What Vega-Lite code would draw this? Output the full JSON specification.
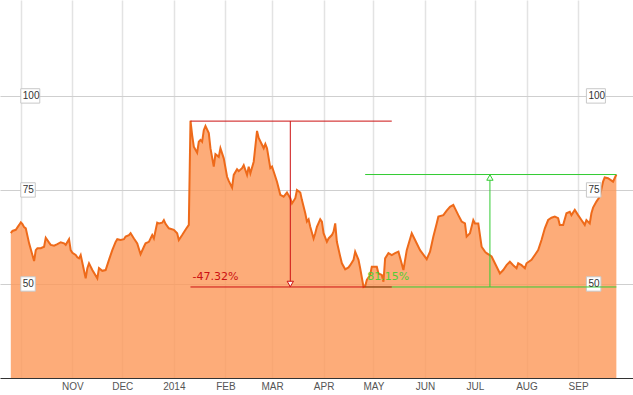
{
  "$schema": "https://vega.github.io/schema/vega-lite/v6.json",
  "width": 633,
  "height": 378,
  "autosize": {"type": "none"},
  "padding": {"left": 0, "right": 0, "top": 0, "bottom": 17},
  "background": "white",
  "config": {"view": {"stroke": null}, "font": "Liberation Sans"},
  "datasets": {
    "price": [
      {"date":"2013-09-25","close":63.5},{"date":"2013-09-26","close":64.1},{"date":"2013-09-28","close":64.4},{"date":"2013-09-30","close":65.7},
      {"date":"2013-10-01","close":66.4},{"date":"2013-10-02","close":65.9},{"date":"2013-10-03","close":65.1},{"date":"2013-10-04","close":64.8},
      {"date":"2013-10-06","close":60.8},{"date":"2013-10-09","close":56.1},{"date":"2013-10-10","close":59.0},{"date":"2013-10-11","close":59.5},
      {"date":"2013-10-13","close":59.5},{"date":"2013-10-15","close":59.9},{"date":"2013-10-16","close":62.3},{"date":"2013-10-18","close":61.0},
      {"date":"2013-10-19","close":60.4},{"date":"2013-10-21","close":60.2},{"date":"2013-10-23","close":60.6},{"date":"2013-10-25","close":61.1},
      {"date":"2013-10-27","close":60.8},{"date":"2013-10-28","close":60.4},{"date":"2013-10-30","close":61.9},{"date":"2013-10-31","close":59.0},
      {"date":"2013-11-01","close":58.3},{"date":"2013-11-03","close":57.7},{"date":"2013-11-04","close":57.1},{"date":"2013-11-05","close":56.8},
      {"date":"2013-11-06","close":57.7},{"date":"2013-11-09","close":51.5},{"date":"2013-11-10","close":54.2},{"date":"2013-11-11","close":55.5},
      {"date":"2013-11-13","close":53.7},{"date":"2013-11-16","close":51.5},{"date":"2013-11-17","close":54.2},{"date":"2013-11-19","close":53.5},
      {"date":"2013-11-21","close":53.7},{"date":"2013-11-23","close":56.4},{"date":"2013-11-25","close":59.0},{"date":"2013-11-27","close":61.2},
      {"date":"2013-11-28","close":61.9},{"date":"2013-11-30","close":61.7},{"date":"2013-12-02","close":61.9},{"date":"2013-12-03","close":62.6},
      {"date":"2013-12-05","close":63.0},{"date":"2013-12-06","close":63.5},{"date":"2013-12-08","close":62.1},{"date":"2013-12-10","close":60.8},
      {"date":"2013-12-12","close":57.9},{"date":"2013-12-14","close":59.9},{"date":"2013-12-15","close":60.8},{"date":"2013-12-17","close":61.2},
      {"date":"2013-12-19","close":63.0},{"date":"2013-12-20","close":62.1},{"date":"2013-12-22","close":66.3},{"date":"2013-12-23","close":66.1},
      {"date":"2013-12-25","close":66.3},{"date":"2013-12-26","close":67.0},{"date":"2013-12-27","close":66.0},{"date":"2013-12-29","close":64.8},
      {"date":"2014-01-01","close":64.4},{"date":"2014-01-03","close":63.5},{"date":"2014-01-04","close":61.7},{"date":"2014-01-06","close":63.0},
      {"date":"2014-01-08","close":64.4},{"date":"2014-01-10","close":65.7},{"date":"2014-01-11","close":93.4},{"date":"2014-01-12","close":89.6},
      {"date":"2014-01-13","close":86.5},{"date":"2014-01-15","close":84.9},{"date":"2014-01-16","close":87.8},{"date":"2014-01-17","close":88.3},
      {"date":"2014-01-18","close":87.8},{"date":"2014-01-19","close":90.9},{"date":"2014-01-20","close":92.0},{"date":"2014-01-22","close":90.1},
      {"date":"2014-01-23","close":86.1},{"date":"2014-01-25","close":81.2},{"date":"2014-01-26","close":84.5},{"date":"2014-01-28","close":83.8},
      {"date":"2014-01-29","close":86.1},{"date":"2014-01-31","close":83.4},{"date":"2014-02-02","close":78.5},{"date":"2014-02-03","close":77.4},
      {"date":"2014-02-05","close":75.6},{"date":"2014-02-06","close":79.0},{"date":"2014-02-08","close":80.5},{"date":"2014-02-09","close":80.0},
      {"date":"2014-02-11","close":80.8},{"date":"2014-02-12","close":81.6},{"date":"2014-02-14","close":79.0},{"date":"2014-02-15","close":81.2},
      {"date":"2014-02-16","close":79.4},{"date":"2014-02-18","close":82.5},{"date":"2014-02-20","close":90.7},{"date":"2014-02-21","close":88.8},
      {"date":"2014-02-23","close":87.0},{"date":"2014-02-24","close":86.1},{"date":"2014-02-25","close":87.2},{"date":"2014-02-26","close":86.1},
      {"date":"2014-02-28","close":80.8},{"date":"2014-03-01","close":81.2},{"date":"2014-03-02","close":79.9},{"date":"2014-03-04","close":77.2},
      {"date":"2014-03-06","close":73.7},{"date":"2014-03-08","close":73.2},{"date":"2014-03-10","close":74.3},{"date":"2014-03-12","close":72.8},
      {"date":"2014-03-13","close":71.4},{"date":"2014-03-15","close":72.8},{"date":"2014-03-16","close":75.0},{"date":"2014-03-18","close":74.3},
      {"date":"2014-03-19","close":72.3},{"date":"2014-03-21","close":68.8},{"date":"2014-03-22","close":66.6},{"date":"2014-03-23","close":67.2},
      {"date":"2014-03-24","close":65.2},{"date":"2014-03-26","close":62.1},{"date":"2014-03-27","close":63.5},{"date":"2014-03-28","close":65.2},
      {"date":"2014-03-30","close":67.2},{"date":"2014-03-31","close":66.6},{"date":"2014-04-01","close":63.5},{"date":"2014-04-03","close":61.2},
      {"date":"2014-04-04","close":62.1},{"date":"2014-04-06","close":63.0},{"date":"2014-04-07","close":63.9},{"date":"2014-04-08","close":66.1},
      {"date":"2014-04-09","close":61.2},{"date":"2014-04-11","close":57.3},{"date":"2014-04-12","close":55.5},{"date":"2014-04-14","close":53.9},
      {"date":"2014-04-16","close":54.4},{"date":"2014-04-17","close":55.0},{"date":"2014-04-19","close":56.4},{"date":"2014-04-20","close":58.6},
      {"date":"2014-04-22","close":56.4},{"date":"2014-04-23","close":54.2},{"date":"2014-04-25","close":49.2},{"date":"2014-04-26","close":49.4},
      {"date":"2014-04-27","close":51.1},{"date":"2014-04-29","close":52.4},{"date":"2014-04-30","close":54.6},{"date":"2014-05-03","close":54.6},
      {"date":"2014-05-04","close":52.8},{"date":"2014-05-06","close":52.4},{"date":"2014-05-07","close":50.6},{"date":"2014-05-08","close":56.8},
      {"date":"2014-05-10","close":58.2},{"date":"2014-05-12","close":57.7},{"date":"2014-05-14","close":58.2},{"date":"2014-05-16","close":58.6},
      {"date":"2014-05-19","close":53.7},{"date":"2014-05-21","close":59.0},{"date":"2014-05-24","close":63.5},{"date":"2014-05-26","close":61.7},
      {"date":"2014-05-29","close":59.0},{"date":"2014-06-02","close":56.6},{"date":"2014-06-04","close":58.6},{"date":"2014-06-06","close":62.6},
      {"date":"2014-06-08","close":66.1},{"date":"2014-06-09","close":67.9},{"date":"2014-06-12","close":68.3},{"date":"2014-06-14","close":69.5},
      {"date":"2014-06-16","close":70.5},{"date":"2014-06-18","close":71.0},{"date":"2014-06-19","close":70.1},{"date":"2014-06-21","close":68.3},
      {"date":"2014-06-23","close":66.6},{"date":"2014-06-25","close":66.1},{"date":"2014-06-26","close":62.6},{"date":"2014-06-28","close":63.5},
      {"date":"2014-06-30","close":67.0},{"date":"2014-07-01","close":66.1},{"date":"2014-07-03","close":66.1},{"date":"2014-07-05","close":59.9},
      {"date":"2014-07-07","close":58.6},{"date":"2014-07-08","close":58.2},{"date":"2014-07-11","close":57.3},{"date":"2014-07-13","close":55.5},
      {"date":"2014-07-15","close":53.7},{"date":"2014-07-16","close":52.8},{"date":"2014-07-18","close":53.7},{"date":"2014-07-20","close":55.0},
      {"date":"2014-07-22","close":55.9},{"date":"2014-07-24","close":55.0},{"date":"2014-07-26","close":54.2},{"date":"2014-07-27","close":55.5},
      {"date":"2014-07-29","close":55.0},{"date":"2014-07-31","close":54.2},{"date":"2014-08-01","close":55.5},{"date":"2014-08-04","close":56.4},
      {"date":"2014-08-06","close":57.7},{"date":"2014-08-08","close":59.0},{"date":"2014-08-10","close":61.7},{"date":"2014-08-12","close":64.8},
      {"date":"2014-08-14","close":67.0},{"date":"2014-08-16","close":67.6},{"date":"2014-08-18","close":67.9},{"date":"2014-08-20","close":67.5},
      {"date":"2014-08-21","close":65.7},{"date":"2014-08-23","close":65.7},{"date":"2014-08-25","close":68.8},{"date":"2014-08-27","close":69.2},
      {"date":"2014-08-28","close":68.3},{"date":"2014-08-30","close":69.7},{"date":"2014-09-01","close":68.3},{"date":"2014-09-03","close":67.0},
      {"date":"2014-09-05","close":65.7},{"date":"2014-09-06","close":67.0},{"date":"2014-09-08","close":66.1},{"date":"2014-09-09","close":68.8},
      {"date":"2014-09-10","close":70.3},{"date":"2014-09-12","close":71.9},{"date":"2014-09-14","close":73.2},{"date":"2014-09-16","close":77.2},
      {"date":"2014-09-17","close":78.3},{"date":"2014-09-19","close":78.1},{"date":"2014-09-22","close":77.2},{"date":"2014-09-24","close":79.1}
    ],
    "moves": [
      {"kind":"rise","start":"2014-04-26","end":"2014-09-24","pivot":"2014-07-10","high":79.1,"low":49.2,"label":"81.15%"},
      {"kind":"drop","start":"2014-01-11","end":"2014-05-12","pivot":"2014-03-12","high":93.3,"low":49.2,"label":"-47.32%"}
    ],
    "ticks": [
      {"v":100,"t":"100"},{"v":75,"t":"75"},{"v":50,"t":"50"}
    ]
  },
  "layer": [
    {
      "data": {"name": "price"},
      "mark": {"type": "area", "color": "#FD9758", "opacity": 0.8, "clip": true},
      "encoding": {
        "x": {
          "field": "date", "type": "temporal",
          "scale": {"type": "utc", "domain": [{"year":2013,"month":9,"date":18,"hours":12,"utc":true},{"year":2014,"month":10,"date":4,"utc":true}]},
          "axis": {
            "values": [
              {"year":2013,"month":10,"date":1,"utc":true},{"year":2013,"month":11,"date":1,"utc":true},{"year":2013,"month":12,"date":1,"utc":true},
              {"year":2014,"month":1,"date":1,"utc":true},{"year":2014,"month":2,"date":1,"utc":true},{"year":2014,"month":3,"date":1,"utc":true},
              {"year":2014,"month":4,"date":1,"utc":true},{"year":2014,"month":5,"date":1,"utc":true},{"year":2014,"month":6,"date":1,"utc":true},
              {"year":2014,"month":7,"date":1,"utc":true},{"year":2014,"month":8,"date":1,"utc":true},{"year":2014,"month":9,"date":1,"utc":true}
            ],
            "labelExpr": "utcmonth(datum.value) == 9 ? '' : (utcmonth(datum.value) == 0 ? utcFormat(datum.value, '%Y') : upper(utcFormat(datum.value, '%b')))",
            "title": null, "ticks": false, "labelPadding": 3, "labelFontSize": 10, "labelColor": "#555", "labelFont": "Liberation Sans",
            "domainColor": "#333", "domainWidth": 1, "grid": true, "gridColor": "#e3e3e3", "gridWidth": 1.5, "labelFlush": false
          }
        },
        "y": {
          "field": "close", "type": "quantitative",
          "scale": {"domain": [25, 125.5], "zero": false, "nice": false},
          "axis": {"values": [50, 75, 100], "labels": false, "ticks": false, "domain": false, "title": null, "grid": true, "gridColor": "#cfcfcf", "gridWidth": 1}
        }
      }
    },
    {
      "data": {"name": "price"},
      "mark": {"type": "line", "color": "#EE6A1A", "strokeWidth": 2, "clip": true},
      "encoding": {
        "x": {"field": "date", "type": "temporal"},
        "y": {"field": "close", "type": "quantitative"}
      }
    },
    {
      "data": {"name": "ticks"},
      "mark": {"type": "point", "filled": true, "fill": "white", "stroke": "#c8c8c8", "strokeWidth": 1, "opacity": 1, "size": 400},
      "encoding": {
        "x": {"datum": {"year":2013,"month":10,"date":1,"utc":true}, "type": "temporal"},
        "y": {"field": "v", "type": "quantitative"},
        "shape": {"field": "t", "type": "nominal", "scale": {"domain": ["100","75","50"], "range": ["M0,-0.72L1.9,-0.72L1.9,0.72L0,0.72Z","M0,-0.72L1.45,-0.72L1.45,0.72L0,0.72Z","M0,-0.72L1.45,-0.72L1.45,0.72L0,0.72Z"]}, "legend": null}
      }
    },
    {
      "data": {"name": "ticks"},
      "mark": {"type": "point", "filled": true, "fill": "white", "stroke": "#c8c8c8", "strokeWidth": 1, "opacity": 1, "size": 400},
      "encoding": {
        "x": {"datum": {"year":2014,"month":9,"date":6,"utc":true}, "type": "temporal"},
        "y": {"field": "v", "type": "quantitative"},
        "shape": {"field": "t", "type": "nominal", "legend": null}
      }
    },
    {
      "data": {"name": "moves"},
      "mark": {"type": "rule", "strokeWidth": 1},
      "encoding": {
        "x": {"field": "start", "type": "temporal"},
        "x2": {"field": "end"},
        "y": {"field": "high", "type": "quantitative"},
        "color": {"condition": {"test": "datum.kind == 'drop'", "value": "#cc1111"}, "value": "#33cc33"}
      }
    },
    {
      "data": {"name": "moves"},
      "mark": {"type": "rule", "strokeWidth": 1},
      "encoding": {
        "x": {"field": "pivot", "type": "temporal"},
        "y": {"field": "high", "type": "quantitative"},
        "y2": {"field": "low"},
        "color": {"condition": {"test": "datum.kind == 'drop'", "value": "#cc1111"}, "value": "#33cc33"}
      }
    },
    {
      "data": {"name": "moves"},
      "mark": {"type": "rule", "strokeWidth": 1},
      "encoding": {
        "x": {"field": "start", "type": "temporal"},
        "x2": {"field": "end"},
        "y": {"field": "low", "type": "quantitative"},
        "color": {"condition": {"test": "datum.kind == 'drop'", "value": "#cc1111"}, "value": "#33cc33"}
      }
    },
    {
      "data": {"name": "moves"},
      "transform": [{"filter": "datum.kind == 'drop'"}],
      "mark": {"type": "point", "shape": "triangle-down", "filled": true, "fill": "#fff4f0", "stroke": "#cc1111", "strokeWidth": 1, "size": 40, "opacity": 1},
      "encoding": {
        "x": {"field": "pivot", "type": "temporal"},
        "y": {"field": "low", "type": "quantitative"},
        "yOffset": {"value": -3}
      }
    },
    {
      "data": {"name": "moves"},
      "transform": [{"filter": "datum.kind == 'rise'"}],
      "mark": {"type": "point", "shape": "triangle-up", "filled": true, "fill": "#f4fff4", "stroke": "#33cc33", "strokeWidth": 1, "size": 40, "opacity": 1},
      "encoding": {
        "x": {"field": "pivot", "type": "temporal"},
        "y": {"field": "high", "type": "quantitative"},
        "yOffset": {"value": 3}
      }
    },
    {
      "data": {"name": "moves"},
      "mark": {"type": "text", "align": "left", "baseline": "middle", "dx": 2, "dy": -10, "fontSize": 11, "font": "DejaVu Sans"},
      "encoding": {
        "x": {"field": "start", "type": "temporal"},
        "y": {"field": "low", "type": "quantitative"},
        "text": {"field": "label"},
        "color": {"condition": {"test": "datum.kind == 'drop'", "value": "#cc1111"}, "value": "#55cc33"}
      }
    },
    {
      "data": {"name": "ticks"},
      "mark": {"type": "text", "align": "left", "baseline": "middle", "dx": 2, "fontSize": 10, "color": "#333", "font": "Liberation Sans"},
      "encoding": {
        "x": {"datum": {"year":2013,"month":10,"date":1,"utc":true}, "type": "temporal"},
        "y": {"field": "v", "type": "quantitative"},
        "text": {"field": "t"}
      }
    },
    {
      "data": {"name": "ticks"},
      "mark": {"type": "text", "align": "left", "baseline": "middle", "dx": 2, "fontSize": 10, "color": "#333", "font": "Liberation Sans"},
      "encoding": {
        "x": {"datum": {"year":2014,"month":9,"date":6,"utc":true}, "type": "temporal"},
        "y": {"field": "v", "type": "quantitative"},
        "text": {"field": "t"}
      }
    }
  ]
}
